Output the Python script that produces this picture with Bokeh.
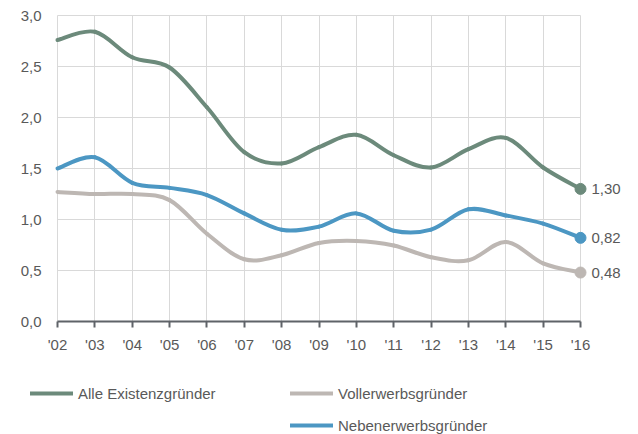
from bokeh.plotting import figure
from bokeh.models import (Range1d, FixedTicker, Legend, LegendItem, Label,
                          ColumnDataSource, LinearAxis, Grid)
from bokeh.embed import file_html
from bokeh.resources import INLINE

# ---- data ----
years = list(range(2002, 2017))
year_labels = ["'02", "'03", "'04", "'05", "'06", "'07", "'08", "'09",
               "'10", "'11", "'12", "'13", "'14", "'15", "'16"]
alle = [2.76, 2.84, 2.59, 2.49, 2.10, 1.66, 1.55, 1.71, 1.83, 1.63, 1.51, 1.69, 1.80, 1.51, 1.30]
voller = [1.27, 1.25, 1.25, 1.19, 0.86, 0.61, 0.65, 0.77, 0.79, 0.745, 0.63, 0.60, 0.78, 0.57, 0.48]
neben = [1.50, 1.61, 1.36, 1.31, 1.24, 1.06, 0.90, 0.93, 1.06, 0.89, 0.90, 1.10, 1.04, 0.96, 0.82]
y_ticks = [0.0, 0.5, 1.0, 1.5, 2.0, 2.5, 3.0]
y_tick_labels = ["0,0", "0,5", "1,0", "1,5", "2,0", "2,5", "3,0"]
series_names = ["Alle Existenzgründer", "Vollerwerbsgründer", "Nebenerwerbsgründer"]
colors = ["#6C8A7B", "#BDB7B3", "#4C97C3"]

FONT = "Liberation Sans"
TXT = "#595959"
GRID = "#D9D9D9"
W, H = 638, 434
# pixel layout of the plotting area (left/right year, top/bottom value)
PX_L, PX_R, PX_T, PX_B = 57.0, 580.0, 15.0, 321.0


def bezier_source(xs, ys, k=1.0 / 6.0):
    """Smooth (Catmull-Rom style) bezier segments through the data points."""
    n = len(xs)
    d = dict(x0=[], y0=[], x1=[], y1=[], cx0=[], cy0=[], cx1=[], cy1=[])
    for i in range(n - 1):
        a = max(i - 1, 0)
        b = min(i + 2, n - 1)
        d["x0"].append(xs[i]); d["y0"].append(ys[i])
        d["x1"].append(xs[i + 1]); d["y1"].append(ys[i + 1])
        d["cx0"].append(xs[i] + (xs[i + 1] - xs[a]) * k)
        d["cy0"].append(ys[i] + (ys[i + 1] - ys[a]) * k)
        d["cx1"].append(xs[i + 1] - (xs[b] - xs[i]) * k)
        d["cy1"].append(ys[i + 1] - (ys[b] - ys[i]) * k)
    return ColumnDataSource(d)


x0, x1 = years[0], years[-1]
y0, y1 = y_ticks[0], y_ticks[-1]
sx = (PX_R - PX_L) / (x1 - x0)
sy = (PX_B - PX_T) / (y1 - y0)
x_range = Range1d(x0 - PX_L / sx, x1 + (W - PX_R) / sx)
y_range = Range1d(y0 - (H - PX_B) / sy, y1 + PX_T / sy)

p = figure(width=W, height=H, output_backend="svg", toolbar_location=None,
           x_range=x_range, y_range=y_range,
           x_axis_location=None, y_axis_location=None,
           min_border=0, min_border_left=0, min_border_right=0,
           min_border_top=0, min_border_bottom=0)
p.background_fill_color = "white"
p.border_fill_color = "white"
p.outline_line_color = None
p.center = []

# grids
xg = Grid(dimension=0, ticker=FixedTicker(ticks=years), grid_line_color=GRID,
          grid_line_width=1, cross_bounds=(y0, y1))
yg = Grid(dimension=1, ticker=FixedTicker(ticks=y_ticks), grid_line_color=GRID,
          grid_line_width=1, cross_bounds=(x0, x1))
p.add_layout(xg)
p.add_layout(yg)

# x axis (fixed at value 0)
xa = LinearAxis(fixed_location=y0, bounds=(x0, x1), ticker=FixedTicker(ticks=years))
xa.major_label_overrides = {y: l for y, l in zip(years, year_labels)}
xa.axis_line_color = "#5F6368"
xa.axis_line_width = 2
xa.major_tick_line_color = "#5F6368"
xa.major_tick_line_width = 2
xa.major_tick_out = 6
xa.major_tick_in = 0
xa.minor_tick_line_color = None
xa.major_label_standoff = 8
xa.major_label_text_font = FONT
xa.major_label_text_font_size = "15px"
xa.major_label_text_color = TXT
p.add_layout(xa, "below")

# y axis (fixed at first year)
ya = LinearAxis(fixed_location=x0, ticker=FixedTicker(ticks=y_ticks))
ya.major_label_overrides = {t: l for t, l in zip(y_ticks, y_tick_labels)}
ya.axis_line_color = None
ya.major_tick_line_color = None
ya.minor_tick_line_color = None
ya.major_tick_out = 0
ya.major_tick_in = 0
ya.major_label_standoff = 16
ya.major_label_text_font = FONT
ya.major_label_text_font_size = "15px"
ya.major_label_text_color = TXT
p.add_layout(ya, "left")

renderers = []
for vals, col in zip([alle, voller, neben], colors):
    r = p.bezier(x0="x0", y0="y0", x1="x1", y1="y1", cx0="cx0", cy0="cy0",
                 cx1="cx1", cy1="cy1", source=bezier_source(years, vals),
                 line_color=col, line_width=4, line_cap="round")
    renderers.append(r)
    p.scatter(x=[years[-1]], y=[vals[-1]], size=11, fill_color=col,
              line_color=col, marker="circle")
    p.add_layout(Label(x=years[-1], y=vals[-1], text=f"{vals[-1]:.2f}".replace(".", ","),
                       x_offset=11, y_offset=0, text_baseline="middle",
                       text_font=FONT, text_font_size="15px", text_color=TXT))


def make_legend(items, loc):
    return Legend(items=items, location=loc, orientation="vertical",
                  glyph_width=43, glyph_height=18, label_height=18, label_standoff=5,
                  spacing=14, padding=0, margin=0, border_line_color=None,
                  background_fill_alpha=0, label_text_font=FONT,
                  label_text_font_size="15px", label_text_color=TXT)


leg_a = make_legend([LegendItem(label=series_names[0], renderers=[renderers[0]])], (30, 32))
leg_b = make_legend([LegendItem(label=series_names[1], renderers=[renderers[1]]),
                     LegendItem(label=series_names[2], renderers=[renderers[2]])], (290, 0))
p.add_layout(leg_a, "center")
p.add_layout(leg_b, "center")

open("out.html", "w").write(file_html(p, INLINE))
